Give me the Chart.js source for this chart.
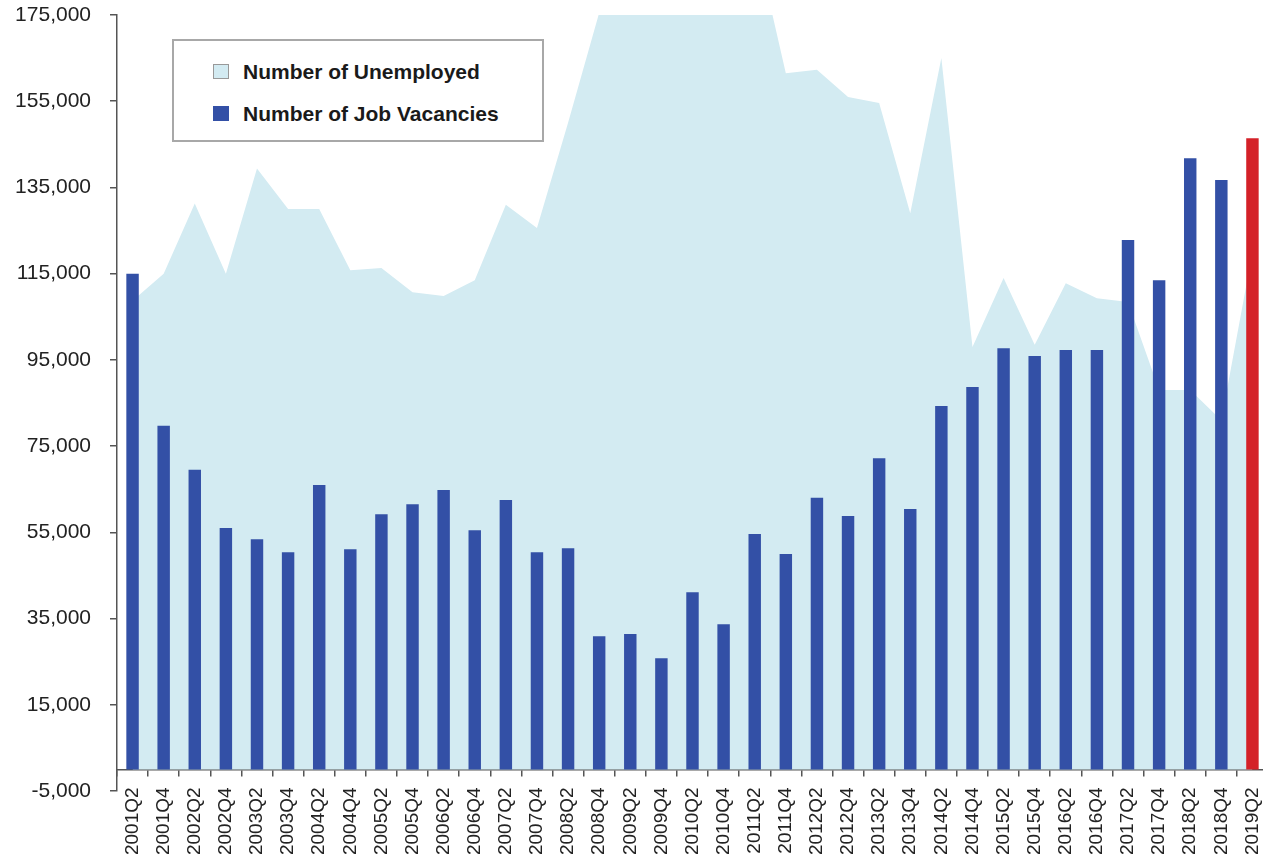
<!DOCTYPE html>
<html>
<head>
<meta charset="utf-8">
<script src="https://cdn.jsdelivr.net/npm/chart.js@4.4.0/dist/chart.umd.min.js"></script>
<style>
    html, body { margin: 0; padding: 0; background: #fff; overflow: hidden; }
    #wrap { position: relative; width: 1268px; height: 863px; }
    #legend {
        position: absolute; left: 172px; top: 39px; width: 368px; height: 99px;
        border: 2px solid #a8a8a8; background: #fff;
        font: bold 21px "Liberation Sans", Arial, sans-serif; color: #1a1a1a;
    }
    #legend .item { position: absolute; left: 39px; height: 24px; line-height: 24px; }
    #legend .box { position: absolute; left: 0; top: 4px; width: 16px; height: 15px; box-sizing: border-box; }
    #legend .txt { position: absolute; left: 30px; top: 0; white-space: nowrap; }
</style>
</head>
<body>
<div id="wrap">
    <canvas id="myChart"></canvas>
    <div id="legend"></div>
</div>
<script>
// half-yearly periods shown on the x axis
var periods = ['2001Q2', '2001Q4', '2002Q2', '2002Q4', '2003Q2', '2003Q4', '2004Q2', '2004Q4',
    '2005Q2', '2005Q4', '2006Q2', '2006Q4', '2007Q2', '2007Q4', '2008Q2', '2008Q4',
    '2009Q2', '2009Q4', '2010Q2', '2010Q4', '2011Q2', '2011Q4', '2012Q2', '2012Q4',
    '2013Q2', '2013Q4', '2014Q2', '2014Q4', '2015Q2', '2015Q4', '2016Q2', '2016Q4',
    '2017Q2', '2017Q4', '2018Q2', '2018Q4', '2019Q2'];

// number of unemployed (area) - 2008Q4..2011Q2 run off the top of the axis
var unemployed = [108700, 115000, 131300, 115000, 139400, 130000, 130000, 115800,
    116300, 110700, 109800, 113500, 131000, 125600, 150000, 175500,
    198000, 205000, 200000, 196000, 193000, 161500, 162300, 156000,
    154600, 129000, 165000, 98000, 114000, 98500, 112800, 109300,
    108400, 88000, 88000, 81000, 120000];

// number of job vacancies (bars)
var vacancies = [115000, 79700, 69500, 56000, 53400, 50400, 66000, 51100,
    59200, 61500, 64800, 55500, 62500, 50400, 51300, 30900,
    31400, 25800, 41100, 33700, 54600, 50000, 63000, 58800,
    72200, 60400, 84300, 88700, 97700, 95900, 97300, 97300,
    122800, 113500, 141800, 136700, 146400];

var labelUnemp = 'Number of Unemployed';
var labelVac = 'Number of Job Vacancies';

var blue = '#3350a6';
var red = '#d42128';
var lightBlue = '#d3ebf2';
var axisCol = '#555555';
var txtCol = '#222222';
var fontFam = '"Liberation Sans", Arial, sans-serif';

var barColors = periods.map(function (p, i) { return i == periods.length - 1 ? red : blue });

var data = {
    labels: periods,
    datasets: [
        {
            type: 'bar',
            label: labelVac,
            data: vacancies,
            backgroundColor: barColors,
            borderWidth: 0,
            barPercentage: 0.4,
            categoryPercentage: 1,
            order: 1,
            legendColor: blue
        },
        {
            type: 'line',
            label: labelUnemp,
            data: unemployed,
            backgroundColor: lightBlue,
            borderColor: lightBlue,
            borderWidth: 0,
            pointRadius: 0,
            tension: 0,
            fill: 'origin',
            order: 2,
            legendColor: lightBlue
        }
    ]
};

var options = {
    responsive: true,
    maintainAspectRatio: false,
    animation: false,
    layout: {
        // x axis sits on the zero line, so its label room is kept here
        padding: { top: 15, left: 0, right: 0, bottom: 72 }
    },
    plugins: {
        legend: { display: false },
        tooltip: { enabled: false }
    },
    scales: {
        x: {
            position: { y: 0 },
            offset: true,
            ticks: {
                autoSkip: false,
                maxRotation: 90,
                minRotation: 90,
                padding: 12,
                color: txtCol,
                font: { family: fontFam, size: 19 }
            },
            grid: {
                offset: true,
                drawOnChartArea: false,
                drawTicks: true,
                tickLength: 6,
                color: axisCol,
                lineWidth: 1.5
            },
            border: { display: true, color: axisCol, width: 1.5 },
            afterFit: function (scale) {
                scale.paddingLeft = 0;
                scale.paddingRight = 0;
            }
        },
        y: {
            min: -5000,
            max: 175000,
            ticks: {
                stepSize: 20000,
                padding: 19,
                color: txtCol,
                font: { family: fontFam, size: 21 }
            },
            grid: {
                drawOnChartArea: false,
                drawTicks: true,
                tickLength: 7,
                color: axisCol,
                lineWidth: 1.5
            },
            border: { display: true, color: axisCol, width: 1.5 },
            afterFit: function (scale) {
                scale.width = 117;
                scale.paddingTop = 0;
                scale.paddingBottom = 0;
            }
        }
    }
};

var myChart = new Chart(document.getElementById('myChart'), {
    data: data,
    options: options
});

// boxed legend: unemployed first, then vacancies
var legendEl = document.getElementById('legend');
var legendOrder = [1, 0];
legendOrder.forEach(function (idx, row) {
    var ds = myChart.data.datasets[idx];
    var item = document.createElement('div');
    item.className = 'item';
    item.style.top = (19 + row * 42) + 'px';
    var box = document.createElement('span');
    box.className = 'box';
    box.style.background = ds.legendColor;
    box.style.border = ds.type == 'line' ? '1.5px solid #999' : '0';
    var txt = document.createElement('span');
    txt.className = 'txt';
    txt.textContent = ds.label;
    item.appendChild(box);
    item.appendChild(txt);
    legendEl.appendChild(item);
});
</script>
</body>
</html>
